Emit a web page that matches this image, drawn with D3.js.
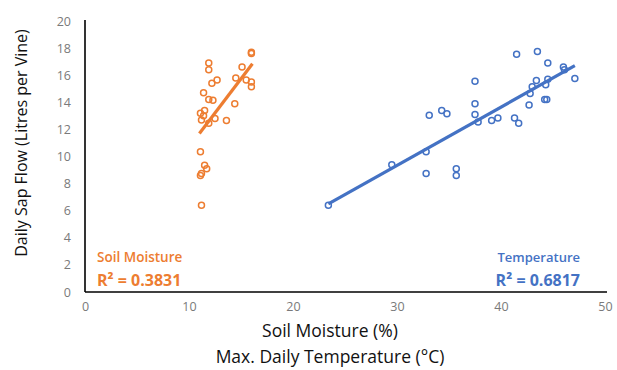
<!DOCTYPE html>
<html><head><meta charset="utf-8">
<script src="https://cdn.jsdelivr.net/npm/d3@7"></script>
<style>body{margin:0;background:#fff;}svg{display:block;}</style>
</head><body><svg id="c" width="617" height="370"></svg>
<script>
const soilX = [16.0,16.0,11.9,11.9,15.1,14.5,15.5,16.0,16.0,12.2,12.7,11.4,11.9,12.3,14.4,11.5,11.1,11.4,11.2,12.5,13.6,11.9,11.1,11.5,11.7,11.2,11.1,11.2];
const soilY = [17.7,17.6,16.9,16.4,16.6,15.8,15.65,15.5,15.15,15.4,15.65,14.7,14.2,14.15,13.9,13.4,13.2,13.0,12.7,12.8,12.65,12.45,10.35,9.35,9.1,8.75,8.6,6.4];
const tempX = [23.4,29.5,32.8,32.8,33.1,34.3,34.8,35.7,35.7,37.5,37.5,37.5,37.8,39.1,39.7,41.3,41.7,41.5,43.5,44.5,46.0,46.1,47.1,43.4,44.5,43.0,44.3,42.8,44.2,44.4,42.7];
const tempY = [6.4,9.4,10.35,8.75,13.05,13.4,13.15,9.1,8.6,15.55,13.9,13.1,12.55,12.65,12.85,12.85,12.45,17.55,17.75,16.9,16.6,16.4,15.75,15.6,15.7,15.15,15.3,14.65,14.2,14.2,13.8];
const soilTrendX = [11.0, 16.1];
const soilTrendY = [11.7, 16.85];
const tempTrendX = [23.4, 47.1];
const tempTrendY = [6.5, 16.7];
const xTicks = [0,10,20,30,40,50];
const yTicks = [0,2,4,6,8,10,12,14,16,18,20];
const soilLabel = "Soil Moisture", soilR2 = "R² = 0.3831";
const tempLabel = "Temperature", tempR2 = "R² = 0.6817";

const orange = "#ED7D31", blue = "#4472C4";
const font = "'Open Sans', 'Liberation Sans', sans-serif";
const svg = d3.select("#c");
const x = d3.scaleLinear().domain([0,50]).range([85,605]);
const y = d3.scaleLinear().domain([0,20]).range([292,21]);

// axes
const xa = svg.append("g").attr("transform","translate(0,292)")
  .call(d3.axisBottom(x).tickValues(xTicks).tickSize(0).tickPadding(10));
const ya = svg.append("g").attr("transform","translate(85,0)")
  .call(d3.axisLeft(y).tickValues(yTicks).tickSize(0).tickPadding(14));
[xa,ya].forEach(a=>{
  a.select(".domain").attr("stroke","#000").attr("stroke-width",1.6);
  a.selectAll("text").attr("fill","#7a7a7a").attr("font-family",font).attr("font-size",12.5);
});
xa.select(".domain").attr("d","M85,0H607");
ya.select(".domain").attr("d","M0,20V292");

// trend lines
const line = d3.line().x(d=>x(d[0])).y(d=>y(d[1]));
svg.append("path").attr("d",line(d3.zip(soilTrendX,soilTrendY))).attr("stroke",orange).attr("stroke-width",3.2).attr("fill","none");
svg.append("path").attr("d",line(d3.zip(tempTrendX,tempTrendY))).attr("stroke",blue).attr("stroke-width",3.2).attr("fill","none");

// points
function pts(xs,ys,col){
  svg.append("g").selectAll("circle").data(d3.zip(xs,ys)).join("circle")
    .attr("cx",d=>x(d[0])).attr("cy",d=>y(d[1])).attr("r",3)
    .attr("fill","none").attr("stroke",col).attr("stroke-width",1.5);
}
pts(soilX,soilY,orange);
pts(tempX,tempY,blue);

// legends
svg.append("text").attr("x",97).attr("y",262).text(soilLabel).attr("fill",orange).attr("font-family",font).attr("font-size",13.5).attr("font-weight",600);
svg.append("text").attr("x",97).attr("y",286).text(soilR2).attr("fill",orange).attr("font-family",font).attr("font-size",16).attr("font-weight",700);
svg.append("text").attr("x",580).attr("y",262).attr("text-anchor","end").text(tempLabel).attr("fill",blue).attr("font-family",font).attr("font-size",13).attr("font-weight",600);
svg.append("text").attr("x",580).attr("y",286).attr("text-anchor","end").text(tempR2).attr("fill",blue).attr("font-family",font).attr("font-size",16).attr("font-weight",700);

// titles
svg.append("text").attr("x",330).attr("y",337).attr("text-anchor","middle").text("Soil Moisture (%)").attr("fill","#111").attr("font-family",font).attr("font-size",17.5);
svg.append("text").attr("x",330).attr("y",363).attr("text-anchor","middle").text("Max. Daily Temperature (°C)").attr("fill","#111").attr("font-family",font).attr("font-size",17.5);
svg.append("text").attr("transform","translate(27,143) rotate(-90)").attr("text-anchor","middle").text("Daily Sap Flow (Litres per Vine)").attr("fill","#111").attr("font-family",font).attr("font-size",16);
</script></body></html>
